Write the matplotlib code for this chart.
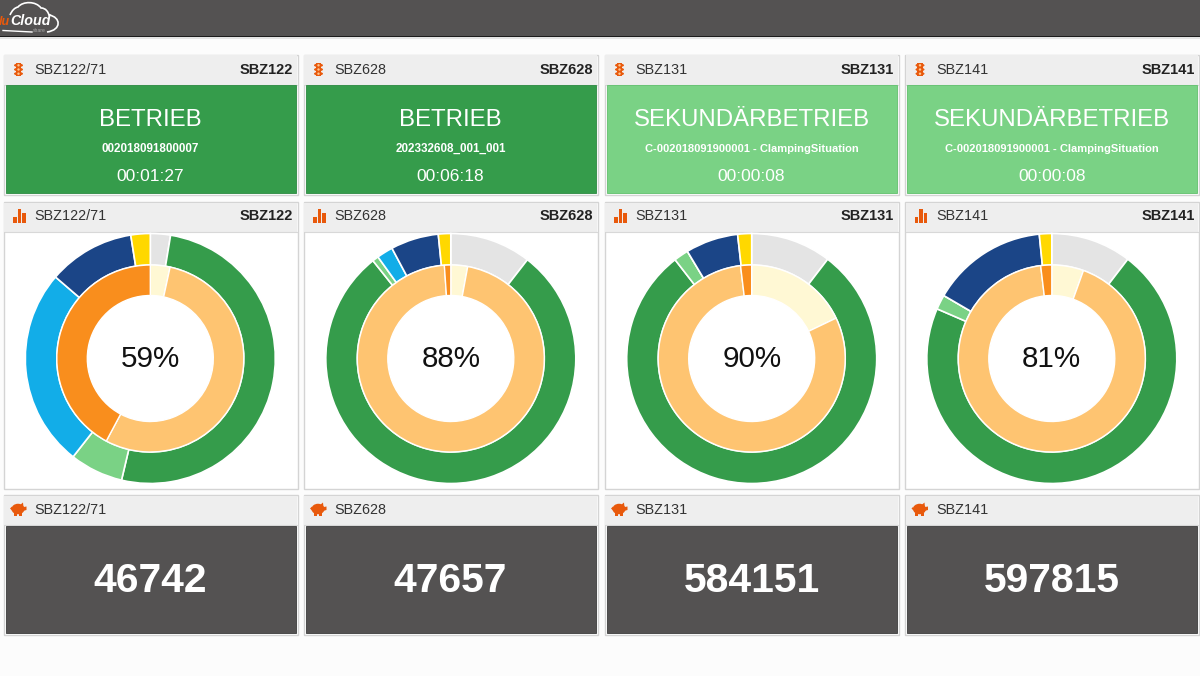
#!/usr/bin/env python
"""Machine dashboard: status cards, availability donuts and part counters."""

import matplotlib
matplotlib.use('Agg')
import matplotlib.pyplot as plt
from matplotlib.patches import Rectangle, Circle, Ellipse, Polygon, PathPatch
from matplotlib.path import Path

plt.rcParams['font.family'] = ['Liberation Sans', 'DejaVu Sans']

# --- data ---
MACHINES = ['SBZ122/71', 'SBZ628', 'SBZ131', 'SBZ141']
SHORT_NAMES = ['SBZ122', 'SBZ628', 'SBZ131', 'SBZ141']
STATES = ['BETRIEB', 'BETRIEB', 'SEKUNDÄRBETRIEB', 'SEKUNDÄRBETRIEB']
ORDERS = ['002018091800007', '202332608_001_001',
          'C-002018091900001 - ClampingSituation',
          'C-002018091900001 - ClampingSituation']
TIMERS = ['00:01:27', '00:06:18', '00:00:08', '00:00:08']
PERCENTS = ['59%', '88%', '90%', '81%']
COUNTERS = ['46742', '47657', '584151', '597815']

# outer ring, clockwise from 12 o'clock: idle, run, secondary, fault, setup, wait
OUTER_1 = [2.6, 51.1, 6.9, 25.7, 11.2, 2.5]
OUTER_2 = [10.5, 78.8, 0.8, 2.1, 6.2, 1.6]
OUTER_3 = [10.4, 79.1, 1.9, 0.0, 6.8, 1.8]
OUTER_4 = [10.4, 71.1, 1.9, 0.0, 15.0, 1.6]
OUTER_COLORS = ['#e4e4e4', '#359c4b', '#7ad285', '#12ade8', '#1b4587', '#ffd800']

# inner ring, clockwise from 12 o'clock
INNER_1 = [3.4, 54.4, 42.2]
INNER_2 = [2.9, 96.0, 1.1]
INNER_3 = [17.9, 80.2, 1.9]
INNER_4 = [5.5, 92.6, 1.9]
INNER_COLORS = ['#fff8d4', '#fec471', '#f98e1d']

OUTER_RINGS = [OUTER_1, OUTER_2, OUTER_3, OUTER_4]
INNER_RINGS = [INNER_1, INNER_2, INNER_3, INNER_4]

STATE_COLORS = ['#359c4b', '#359c4b', '#7ad285', '#7ad285']
STATE_EDGES = ['#2a8a40', '#2a8a40', '#5fc06c', '#5fc06c']

# --- layout, in reference pixels ---
W, H = 1200, 676
CARD_LEFT = [3.5, 303.5, 604.5, 905]
CARD_WIDTH = 294
DONUT_CX = [150.3, 450.8, 751.7, 1051.8]
DONUT_CY = 358.5
R_OUTER = 125
R_MID = 93.5
R_INNER = 63
ICON_COLOR = '#e8590c'
TEXT_COLOR = '#333333'
DARK = '#545252'


def card(ax, x, top, bottom, header_h, fill=None, edge='none'):
    ax.add_patch(Rectangle((x, top), CARD_WIDTH, bottom - top, fc='white',
                           ec='#d4d4d4', lw=1.0, zorder=1))
    ax.add_patch(Rectangle((x + 0.7, top + 0.7), CARD_WIDTH - 1.4, header_h, fc='#eeeeee',
                           ec='none', zorder=2))
    ax.plot([x + 1, x + CARD_WIDTH - 1], [top + header_h + 0.7] * 2, color='#d8d8d8',
            lw=0.8, zorder=3)
    if fill is not None:
        ax.add_patch(Rectangle((x + 2, top + header_h + 1), CARD_WIDTH - 4,
                               bottom - top - header_h - 3, fc=fill, ec=edge, lw=0.6, zorder=3))


def header(ax, x, cy, name, short=None):
    ax.text(x + 31, cy, name, fontsize=10.4, color=TEXT_COLOR, va='center', ha='left', zorder=5)
    if short:
        ax.text(x + CARD_WIDTH - 4.5, cy, short, fontsize=10.5, fontweight='bold', color='#222222',
                va='center', ha='right', zorder=5)


def icon_light(ax, cx, cy):
    ax.add_patch(Rectangle((cx - 2.8, cy - 6.2), 5.6, 12.4, fc=ICON_COLOR, ec='none', zorder=5))
    for dy in (-4.2, 0, 4.2):
        ax.add_patch(Ellipse((cx, cy + dy), 9, 3.6, fc=ICON_COLOR, ec='none', zorder=5))
        ax.add_patch(Circle((cx, cy + dy), 1.2, fc='#ffc890', ec='none', zorder=6))


def icon_bars(ax, cx, cy):
    base = cy + 7
    for dx, h in ((-6, 6), (-1.5, 14), (3, 10)):
        ax.add_patch(Rectangle((cx + dx, base - h), 3.7, h, fc=ICON_COLOR, ec='none', zorder=5))


def icon_pig(ax, cx, cy):
    ax.add_patch(Ellipse((cx, cy - 0.5), 13, 10.5, fc=ICON_COLOR, ec='none', zorder=5))
    ax.add_patch(Polygon([(cx + 3, cy - 2), (cx + 8.5, cy - 3), (cx + 8.5, cy + 0.5), (cx + 3, cy + 2)],
                         fc=ICON_COLOR, ec='none', zorder=5))
    ax.add_patch(Polygon([(cx + 1.5, cy - 4), (cx + 5, cy - 7), (cx + 5.5, cy - 2)],
                         fc=ICON_COLOR, ec='none', zorder=5))
    ax.add_patch(Rectangle((cx - 4.5, cy + 3), 3.4, 3.8, fc=ICON_COLOR, ec='none', zorder=5))
    ax.add_patch(Rectangle((cx + 1, cy + 3), 3.4, 3.8, fc=ICON_COLOR, ec='none', zorder=5))
    ax.add_patch(Polygon([(cx - 6, cy - 3), (cx - 8, cy - 1), (cx - 6, cy + 1)],
                         fc=ICON_COLOR, ec='none', zorder=5))


def draw_logo(ax):
    verts = [(10, 15), (13, 8), (18, 7),
             (23, 1), (36, 1), (41, 8),
             (46, 8), (48, 12), (49, 15),
             (61, 17), (62, 30), (47, 32)]
    codes = [Path.MOVETO, Path.CURVE3, Path.CURVE3,
             Path.CURVE4, Path.CURVE4, Path.CURVE4,
             Path.CURVE4, Path.CURVE4, Path.CURVE4,
             Path.CURVE4, Path.CURVE4, Path.CURVE4]
    ax.add_patch(PathPatch(Path(verts, codes), fc='none', ec='white', lw=1.2, zorder=5))
    ax.plot([3, 32], [30.5, 32], color='white', lw=1.0, zorder=5)
    # the reference crops the logo at the left window edge
    ax.text(10, 25, 'lu', fontsize=9, fontweight='bold', style='italic', color='#e8590c',
            va='baseline', ha='right', zorder=6)
    ax.text(10.5, 25, 'Cloud', fontsize=10.3, fontweight='bold', style='italic', color='white',
            va='baseline', ha='left', zorder=6)
    ax.text(33, 32.5, 'share', fontsize=3.6, color='#aaaaaa', va='baseline', ha='left', zorder=6)


def draw_donut(fig, cx, cy, outer, inner):
    # own axes per donut so the pies keep their native orientation
    size = 2 * R_OUTER
    dax = fig.add_axes([(cx - R_OUTER) / W, 1 - (cy + R_OUTER) / H, size / W, size / H], zorder=4)
    dax.pie(outer, colors=OUTER_COLORS, radius=1.0, startangle=90, counterclock=False,
            wedgeprops=dict(width=1 - R_MID / R_OUTER, edgecolor='white', linewidth=1.2))
    dax.pie(inner, colors=INNER_COLORS, radius=R_MID / R_OUTER, startangle=90, counterclock=False,
            wedgeprops=dict(width=(R_MID - R_INNER) / R_OUTER, edgecolor='white', linewidth=1.0))
    dax.set_xlim(-1, 1)
    dax.set_ylim(-1, 1)
    dax.patch.set_visible(False)
    return dax


def main():
    fig = plt.figure(figsize=(W / 100, H / 100), dpi=100, facecolor='#fcfcfc')
    ax = fig.add_axes([0, 0, 1, 1])
    ax.set_xlim(0, W)
    ax.set_ylim(H, 0)
    ax.axis('off')

    # top bar
    ax.add_patch(Rectangle((0, 0), W, 36, fc=DARK, ec='none', zorder=1))
    ax.add_patch(Rectangle((0, 36), W, 1.4, fc='#1c1c1c', ec='none', zorder=1))
    ax.add_patch(Rectangle((0, 37.4), W, 1.4, fc='#e4e4e4', ec='none', zorder=1))
    draw_logo(ax)

    for i, x in enumerate(CARD_LEFT):
        mid = x + CARD_WIDTH / 2

        # status card
        card(ax, x, 54.5, 194.5, 29.5, STATE_COLORS[i], STATE_EDGES[i])
        icon_light(ax, x + 15, 69.5)
        header(ax, x, 69.5, MACHINES[i], SHORT_NAMES[i])
        ax.text(mid, 120, STATES[i], fontsize=17.3, color='white', ha='center', va='center', zorder=5)
        ax.text(mid, 149, ORDERS[i], fontsize=8.4 if i < 2 else 8.05, fontweight='bold',
                color='white', ha='center', va='center', zorder=5)
        ax.text(mid, 176.5, TIMERS[i], fontsize=12.5, color='white', ha='center', va='center', zorder=5)

        # donut card
        card(ax, x, 202, 488.5, 29)
        icon_bars(ax, x + 15.5, 215.5)
        header(ax, x, 215.5, MACHINES[i], SHORT_NAMES[i])
        draw_donut(fig, DONUT_CX[i], DONUT_CY, OUTER_RINGS[i], INNER_RINGS[i])
        fig.text(DONUT_CX[i] / W, 1 - 359 / H, PERCENTS[i], fontsize=21.3, color='#111111',
                 ha='center', va='center', zorder=10)

        # counter card
        card(ax, x, 495, 635, 29.5, DARK, '#3c3c3c')
        icon_pig(ax, x + 14.5, 509.5)
        header(ax, x, 509.5, MACHINES[i])
        ax.text(mid, 580.5, COUNTERS[i], fontsize=29.4, fontweight='bold', color='white',
                ha='center', va='center', zorder=5)

    fig.savefig('out.png', dpi=100, facecolor=fig.get_facecolor())
    plt.close(fig)


if __name__ == '__main__':
    main()
